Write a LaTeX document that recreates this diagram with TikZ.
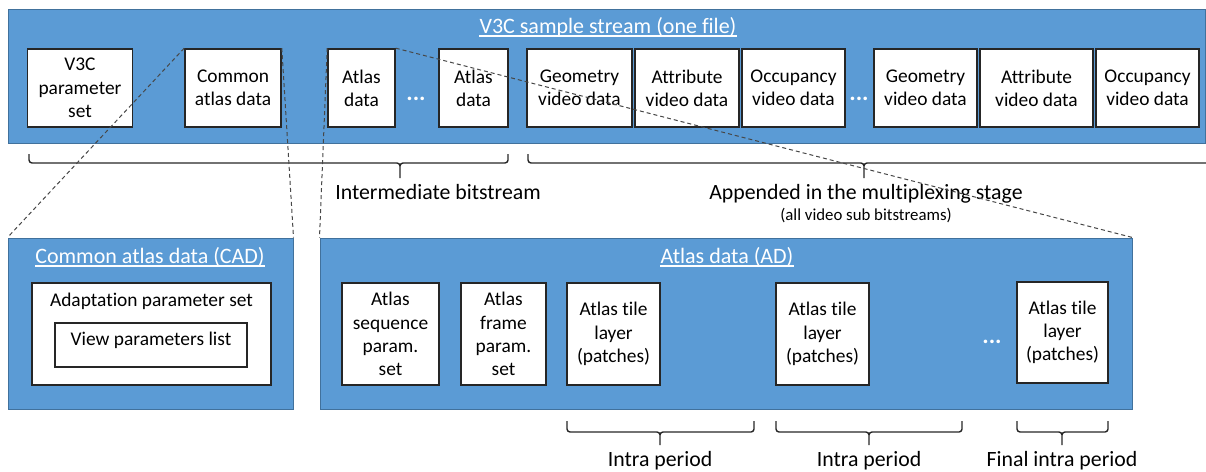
\documentclass[tikz,border=0pt]{standalone}
\usepackage{fontspec}
\setmainfont{Carlito}[RawFeature={-liga;-clig;-dlig;-calt}]
\definecolor{blueA}{HTML}{5B9BD5}
\definecolor{blueB}{HTML}{41719C}
\definecolor{edge}{HTML}{262626}
\begin{document}
\begin{tikzpicture}[x=1pt,y=-1pt,
  bluebox/.style={draw=blueB, fill=blueA, line width=1pt, inner sep=0pt},
  wbox/.style={draw=edge, fill=white, line width=1.6pt, align=center, inner sep=0pt,
    font=\fontsize{19.4}{23.3}\selectfont},
  btext/.style={align=center, inner sep=0pt, font=\fontsize{19.4}{23.3}\selectfont},
  ttl/.style={text=white, inner sep=0pt, anchor=base, font=\fontsize{22}{26}\selectfont},
  lbl/.style={inner sep=0pt, anchor=base, font=\fontsize{21.8}{26}\selectfont},
  small/.style={inner sep=0pt, anchor=base, font=\fontsize{16.8}{20}\selectfont},
  dots/.style={text=white, inner sep=0pt, anchor=base, font=\bfseries\fontsize{24}{28}\selectfont},
  brc/.style={draw=edge, line width=1.4pt},
  dsh/.style={draw=edge!85, line width=1pt, dash pattern=on 4pt off 3pt},
  uline/.style={draw=white, line width=1.3pt}
]
\useasboundingbox (0,0) rectangle (1206,471);

% ---------- top stream ----------
\node[bluebox, minimum width=1197.5pt, minimum height=133.5pt] (stream) at (606.75,76.25) {};
\node[ttl] (t1) at (608,33) {V3C sample stream (one file)};
\draw[uline] ([yshift=-3pt]t1.base west) -- ([yshift=-3pt]t1.base east);

\node[wbox, minimum width=105pt, minimum height=78pt] (v3c) at (80,88) {V3C\\parameter\\set};
\node[wbox, minimum width=96pt, minimum height=78pt] (cad) at (233,88) {Common\\atlas data};
\node[wbox, minimum width=67pt, minimum height=78pt] (ad1) at (361.5,88) {Atlas\\data};
\node[dots] (d1) at (416,100) {...};
\node[wbox, minimum width=69pt, minimum height=78pt] (ad2) at (473.5,88) {Atlas\\data};
\node[wbox, minimum width=105pt, minimum height=78pt] (geo1) at (579.5,88) {Geometry\\video data};
\node[wbox, minimum width=104pt, minimum height=78pt] (att1) at (687,88) {Attribute\\video data};
\node[wbox, minimum width=103pt, minimum height=78pt] (occ1) at (793.5,88) {Occupancy\\video data};
\node[dots] (d2) at (859,100) {...};
\node[wbox, minimum width=103pt, minimum height=78pt] (geo2) at (925.5,88) {Geometry\\video data};
\node[wbox, minimum width=113pt, minimum height=78pt] (att2) at (1036.5,88) {Attribute\\video data};
\node[wbox, minimum width=103pt, minimum height=78pt] (occ2) at (1147.5,88) {Occupancy\\video data};

% top braces
\draw[brc] (29,154) -- (29,160) to[out=-90,in=180] (32,163) -- (397,163) to[out=0,in=90] (400,166) -- (400,178);
\draw[brc] (508,154) -- (508,160) to[out=-90,in=0] (505,163) -- (403,163) to[out=180,in=90] (400,166);
\draw[brc] (528,154) -- (528,160) to[out=-90,in=180] (531,163) -- (861,163) to[out=0,in=90] (864,166) -- (864,178);
\draw[brc] (1206,163) -- (867,163) to[out=180,in=90] (864,166);

\node[lbl] (ib) at (438,199) {Intermediate bitstream};
\node[lbl] (ap) at (866,199) {Appended in the multiplexing stage};
\node[small] (vs) at (866,220) {(all video sub bitstreams)};

% ---------- CAD ----------
\node[bluebox, minimum width=285pt, minimum height=171pt] (cadbig) at (150.5,323.5) {};
\node[ttl] (t2) at (150,263) {Common atlas data (CAD)};
\draw[uline] ([yshift=-3pt]t2.base west) -- ([yshift=-3pt]t2.base east);
\node[wbox, minimum width=239pt, minimum height=102pt] (aps) at (151.5,334) {};
\node[btext, anchor=base] (apst) at (151.5,306) {Adaptation parameter set};
\node[wbox, minimum width=192pt, minimum height=44pt] (vpl) at (151,345) {};
\node[btext, anchor=base] (vplt) at (151,345) {View parameters list};

% ---------- AD ----------
\node[bluebox, minimum width=812pt, minimum height=171pt] (adbig) at (726,323.5) {};
\node[ttl] (t3) at (727,263) {Atlas data (AD)};
\draw[uline] ([yshift=-3pt]t3.base west) -- ([yshift=-3pt]t3.base east);
\node[wbox, minimum width=97pt, minimum height=102pt] (asps) at (390.5,334) {Atlas\\sequence\\param.\\set};
\node[wbox, minimum width=85pt, minimum height=102pt] (afps) at (503.5,334) {Atlas\\frame\\param.\\set};
\node[wbox, minimum width=93pt, minimum height=102pt] (atl1) at (613.5,334) {Atlas tile\\layer\\(patches)};
\node[wbox, minimum width=93pt, minimum height=102pt] (atl2) at (822.5,334) {Atlas tile\\layer\\(patches)};
\node[dots] (d3) at (992,343) {...};
\node[wbox, minimum width=91pt, minimum height=101pt] (atl3) at (1062.5,332.5) {Atlas tile\\layer\\(patches)};

% bottom braces
\draw[brc] (567,421) -- (567,429) to[out=-90,in=180] (570,432) -- (657,432) to[out=0,in=90] (660,435) -- (660,445);
\draw[brc] (754,421) -- (754,429) to[out=-90,in=0] (751,432) -- (663,432) to[out=180,in=90] (660,435);
\draw[brc] (776,421) -- (776,429) to[out=-90,in=180] (779,432) -- (866,432) to[out=0,in=90] (869,435) -- (869,445);
\draw[brc] (962,421) -- (962,429) to[out=-90,in=0] (959,432) -- (872,432) to[out=180,in=90] (869,435);
\draw[brc] (1017,421) -- (1017,429) to[out=-90,in=180] (1020,432) -- (1059,432) to[out=0,in=90] (1062,435) -- (1062,445);
\draw[brc] (1108,421) -- (1108,429) to[out=-90,in=0] (1105,432) -- (1065,432) to[out=180,in=90] (1062,435);

\node[lbl] (ip1) at (660,466) {Intra period};
\node[lbl] (ip2) at (869,466) {Intra period};
\node[lbl] (ip3) at (1062,466) {Final intra period};

% ---------- dashed connectors ----------
\draw[dsh] (cad.north west) -- (cadbig.north west);
\draw[dsh] (cad.north east) -- (cadbig.north east);
\draw[dsh] (ad1.north west) -- (adbig.north west);
\draw[dsh] (ad1.north east) -- (adbig.north east);
\end{tikzpicture}
\end{document}
